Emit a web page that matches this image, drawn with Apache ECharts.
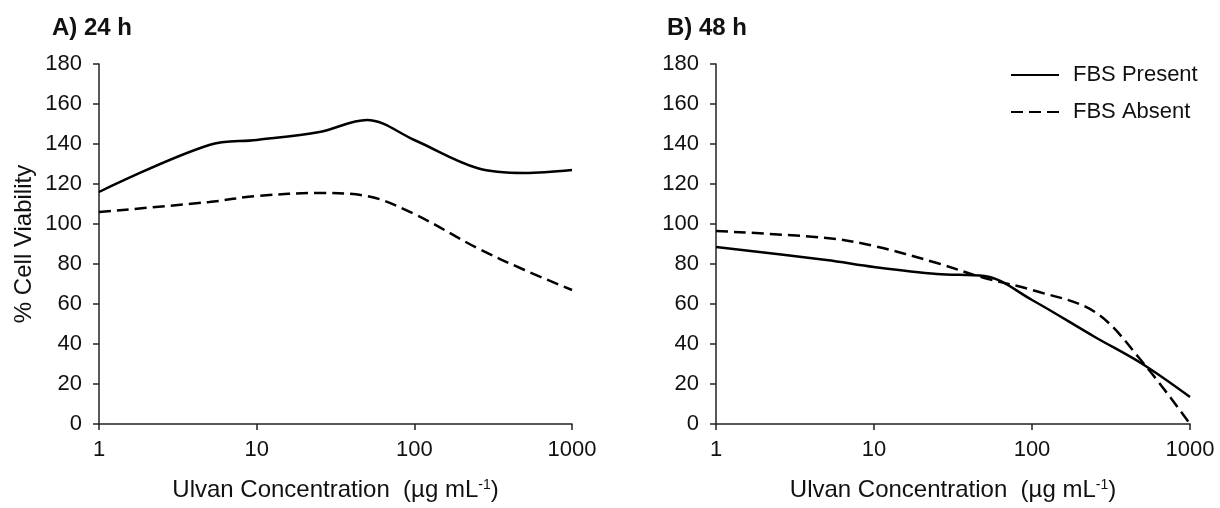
<!DOCTYPE html>
<html><head><meta charset="utf-8">
<script src="https://cdn.jsdelivr.net/npm/echarts@6/dist/echarts.min.js"></script>
<style>html,body{margin:0;padding:0;background:#fff}#c{width:1220px;height:508px}</style>
</head><body><div id="c"></div>
<script>
const conc = [1, 5, 10, 25, 50, 100, 250, 500, 1000];
const present24 = [116, 139.5, 142, 146, 152, 142, 128, 125.5, 127];
const absent24 = [106, 111, 114, 115.5, 114, 105, 88, 77, 67];
const present48 = [88.5, 82, 78.5, 75, 74, 62, 43.5, 30, 13.5];
const absent48 = [96.5, 93, 89, 80.5, 73, 67, 56, 31, 0];
const yTicks = [0, 20, 40, 60, 80, 100, 120, 140, 160, 180];
const panelTitles = ['A) 24 h', 'B) 48 h'];
const seriesNames = ['FBS Present', 'FBS Absent'];

const font = 'Arial, "Liberation Sans", sans-serif';
const txt = '#111';
const pair = (xs, ys) => xs.map((x, i) => [x, ys[i]]);

function xAxis(idx) {
  return {
    type: 'log', logBase: 10, min: 1, max: 1000, gridIndex: idx,
    name: '{n|Ulvan Concentration  (µg mL}{s|-1}{n|)}',
    nameLocation: 'middle', nameGap: 54,
    nameTextStyle: { rich: { n: { fontSize: 24, fontFamily: font, color: txt }, s: { fontSize: 14, fontFamily: font, color: txt, verticalAlign: 'top', padding: [0, 0, 9, 0] } } },
    axisLine: { show: true, lineStyle: { color: '#222', width: 1.5 } },
    axisTick: { show: true, length: 6, lineStyle: { color: '#222', width: 1.5 } },
    minorTick: { show: false }, splitLine: { show: false },
    axisLabel: { fontSize: 22, fontFamily: font, color: txt, margin: 15, formatter: v => String(Math.round(v)) }
  };
}
function yAxis(idx, withName) {
  return {
    type: 'value', min: yTicks[0], max: yTicks[yTicks.length - 1], interval: yTicks[1] - yTicks[0], gridIndex: idx,
    name: withName ? '% Cell Viability' : '', nameLocation: 'middle', nameGap: 63,
    nameTextStyle: { fontSize: 24, fontFamily: font, color: txt },
    axisLine: { show: true, lineStyle: { color: '#222', width: 1.5 } },
    axisTick: { show: true, length: 6, lineStyle: { color: '#222', width: 1.5 } },
    splitLine: { show: false },
    axisLabel: { fontSize: 22, fontFamily: font, color: txt, margin: 17 }
  };
}
const solid = { color: '#000', width: 2.5, type: 'solid' };
const dashed = { color: '#000', width: 2.5, type: [12, 6] };
function line(name, data, idx, style) {
  return { name, type: 'line', xAxisIndex: idx, yAxisIndex: idx, data, smooth: 0.35, symbol: 'none',
    lineStyle: style, itemStyle: { color: '#000' }, emphasis: { disabled: true } };
}

const chart = echarts.init(document.getElementById('c'), null, { renderer: 'canvas' });
chart.setOption({
  animation: false,
  backgroundColor: '#fff',
  title: [
    { text: panelTitles[0], left: 47, top: 11, textStyle: { fontSize: 24, fontWeight: 'bold', fontFamily: font, color: txt } },
    { text: panelTitles[1], left: 662, top: 11, textStyle: { fontSize: 24, fontWeight: 'bold', fontFamily: font, color: txt } }
  ],
  legend: {
    data: seriesNames, orient: 'vertical', left: 1005, top: 59, itemWidth: 48, itemHeight: 22, itemGap: 15,
    itemStyle: { opacity: 0 },
    textStyle: { fontSize: 22, fontFamily: font, color: txt, padding: [0, 0, 0, 9] }
  },
  grid: [
    { left: 99, top: 64, width: 473, height: 360 },
    { left: 716, top: 64, width: 474, height: 360 }
  ],
  xAxis: [xAxis(0), xAxis(1)],
  yAxis: [yAxis(0, true), yAxis(1, false)],
  series: [
    line(seriesNames[0], pair(conc, present24), 0, solid),
    line(seriesNames[1], pair(conc, absent24), 0, dashed),
    line(seriesNames[0], pair(conc, present48), 1, solid),
    line(seriesNames[1], pair(conc, absent48), 1, dashed)
  ]
});
</script></body></html>
